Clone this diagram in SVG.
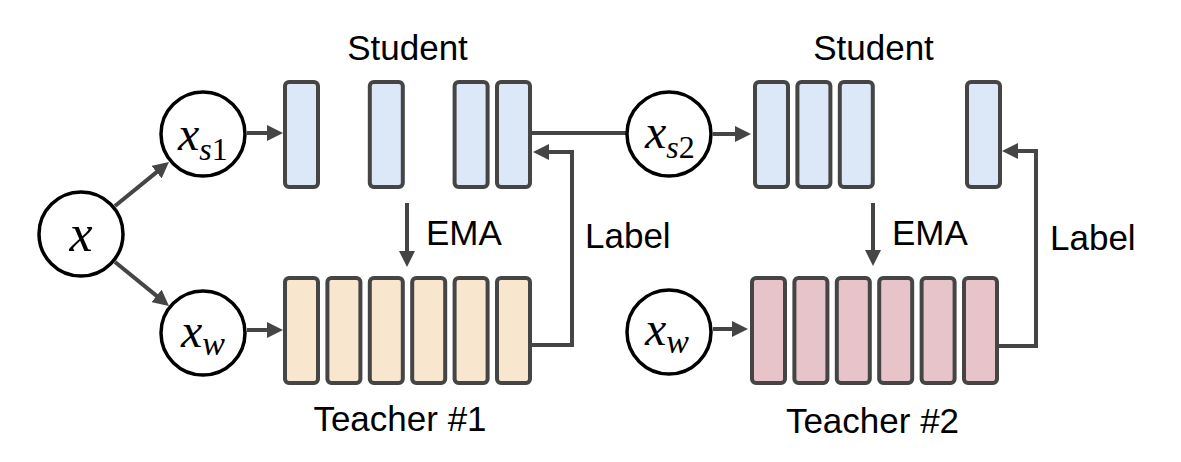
<svg xmlns="http://www.w3.org/2000/svg" width="1181" height="462" viewBox="0 0 1181 462">
<style>
.lbl{font-family:"Liberation Sans",Arial,sans-serif;font-size:35px;fill:#000}
.m{font-family:"Liberation Serif","Times New Roman",serif;font-style:italic;fill:#000}
.c{fill:#fff;stroke:#000;stroke-width:3.5}
.bar{stroke:#454545;stroke-width:4}
.s{fill:#dce7f7}
.t1{fill:#f9e6cf}
.t2{fill:#e7c3ca}
.ln{fill:none;stroke:#454545;stroke-width:4}
</style>
<defs>
<marker id="ah" viewBox="0 0 16 16" refX="8" refY="8" markerWidth="16" markerHeight="16" markerUnits="userSpaceOnUse" orient="auto">
<path d="M0,0 L16,8 L0,16 z" fill="#454545"/>
</marker>
</defs>
<rect width="1181" height="462" fill="#fff"/>
<g id="connectors">
<path class="ln" d="M115,206 L162.8,167.1" marker-end="url(#ah)"/>
<path class="ln" d="M115,262 L162.8,300.9" marker-end="url(#ah)"/>
<path class="ln" d="M247,133 L275,133" marker-end="url(#ah)"/>
<path class="ln" d="M247,330 L275,330" marker-end="url(#ah)"/>
<path class="ln" d="M532,133 L626,133"/>
<path class="ln" d="M713,134 L743,134" marker-end="url(#ah)"/>
<path class="ln" d="M713,329 L740,329" marker-end="url(#ah)"/>
<path class="ln" d="M407,203 L407,259" marker-end="url(#ah)"/>
<path class="ln" d="M873,203 L873,258" marker-end="url(#ah)"/>
<path class="ln" d="M532,345 H572 V152 H541" marker-end="url(#ah)"/>
<path class="ln" d="M999,346 H1036 V151 H1010" marker-end="url(#ah)"/>
</g>
<g id="node-x"><circle class="c" cx="81" cy="234" r="42"/><text class="m" x="81" y="251" font-size="52" text-anchor="middle">x</text></g>
<g id="node-xs1"><circle class="c" cx="203" cy="134" r="42"/><text class="m" x="178" y="150" font-size="48">x<tspan font-size="32" dy="10">s</tspan><tspan font-size="32" font-style="normal">1</tspan></text></g>
<g id="node-xw1"><circle class="c" cx="203" cy="333" r="42"/><text class="m" x="181" y="347" font-size="48">x<tspan font-size="34" dy="8">w</tspan></text></g>
<g id="node-xs2"><circle class="c" cx="669" cy="134" r="42"/><text class="m" x="645" y="148" font-size="48">x<tspan font-size="32" dy="10">s</tspan><tspan font-size="32" font-style="normal">2</tspan></text></g>
<g id="node-xw2"><circle class="c" cx="669" cy="332" r="42"/><text class="m" x="645" y="345" font-size="48">x<tspan font-size="34" dy="8">w</tspan></text></g>
<g id="student1">
<rect class="bar s" x="285" y="82" width="33" height="105" rx="4"/>
<rect class="bar s" x="369.8" y="82" width="33" height="105" rx="4"/>
<rect class="bar s" x="454.6" y="82" width="33" height="105" rx="4"/>
<rect class="bar s" x="497" y="82" width="33" height="105" rx="4"/>
<text class="lbl" x="407.5" y="60" text-anchor="middle">Student</text>
</g>
<g id="teacher1">
<rect class="bar t1" x="285" y="278" width="33" height="105" rx="4"/>
<rect class="bar t1" x="327.4" y="278" width="33" height="105" rx="4"/>
<rect class="bar t1" x="369.8" y="278" width="33" height="105" rx="4"/>
<rect class="bar t1" x="412.2" y="278" width="33" height="105" rx="4"/>
<rect class="bar t1" x="454.6" y="278" width="33" height="105" rx="4"/>
<rect class="bar t1" x="497" y="278" width="33" height="105" rx="4"/>
<text class="lbl" x="400" y="431" text-anchor="middle">Teacher #1</text>
</g>
<g id="student2">
<rect class="bar s" x="755" y="82" width="33" height="105" rx="4"/>
<rect class="bar s" x="797.4" y="82" width="33" height="105" rx="4"/>
<rect class="bar s" x="839.8" y="82" width="33" height="105" rx="4"/>
<rect class="bar s" x="967" y="82" width="33" height="105" rx="4"/>
<text class="lbl" x="873.5" y="60" text-anchor="middle">Student</text>
</g>
<g id="teacher2">
<rect class="bar t2" x="752" y="278" width="33" height="105" rx="4"/>
<rect class="bar t2" x="794.4" y="278" width="33" height="105" rx="4"/>
<rect class="bar t2" x="836.8" y="278" width="33" height="105" rx="4"/>
<rect class="bar t2" x="879.2" y="278" width="33" height="105" rx="4"/>
<rect class="bar t2" x="921.6" y="278" width="33" height="105" rx="4"/>
<rect class="bar t2" x="964" y="278" width="33" height="105" rx="4"/>
<text class="lbl" x="872.5" y="433" text-anchor="middle">Teacher #2</text>
</g>
<g id="labels">
<text class="lbl" x="426" y="245">EMA</text>
<text class="lbl" x="892" y="245">EMA</text>
<text class="lbl" x="585" y="248">Label</text>
<text class="lbl" x="1050" y="250">Label</text>
</g>
</svg>
